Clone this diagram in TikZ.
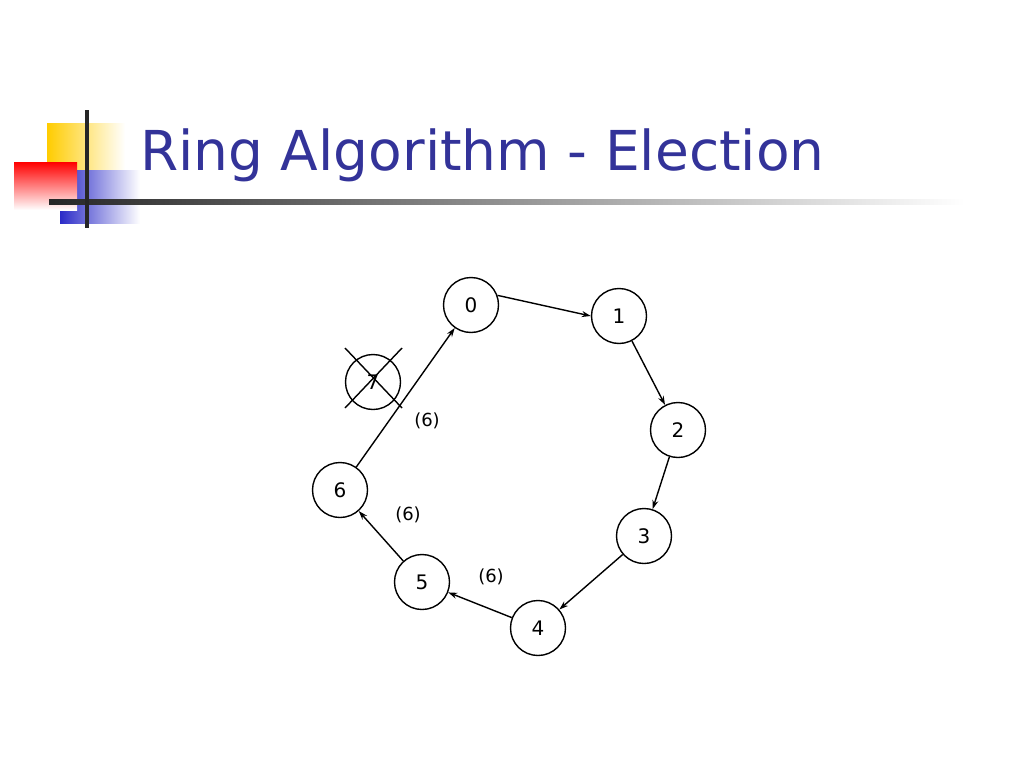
\documentclass[tikz,border=0pt]{standalone}
\usepackage{fontspec}
\setmainfont{DejaVu Sans}
\usetikzlibrary{arrows.meta}
\definecolor{titleblue}{HTML}{333399}
\definecolor{gold}{HTML}{FFCC00}
\definecolor{logoblue}{HTML}{2B2BC8}
\begin{document}
\begin{tikzpicture}[x=1pt,y=-1pt,
  proc/.style={circle,draw,line width=1.4pt,minimum size=55pt,inner sep=0pt,font=\fontsize{20}{20}\selectfont},
  conn/.style={line width=1.4pt,-{Stealth[length=9pt,width=6pt]}},
  lbl/.style={font=\fontsize{18}{18}\selectfont}]
\useasboundingbox (0,0) rectangle (1024,768);
% logo
\shade[left color=gold,right color=white] (47,123) rectangle (125,170);
\shade[left color=logoblue,right color=white] (60,170) rectangle (140,223);
\shade[shading=axis,shading angle=45,top color=red,bottom color=white] (14,162) rectangle (77,210);
\shade[left color=black!85,right color=white] (49,199) rectangle (965,204);
\fill[black!85] (85,110) rectangle (89,228);
\node[anchor=base west,text=titleblue,font=\fontsize{55}{55}\selectfont,inner sep=0pt] (title) at (140,170) {Ring Algorithm - Election};
% nodes
\node[proc] (n0) at (471,305) {0};
\node[proc] (n1) at (619,316) {1};
\node[proc] (n2) at (678,430) {2};
\node[proc] (n3) at (644,536) {3};
\node[proc] (n4) at (538,628) {4};
\node[proc] (n5) at (422,582) {5};
\node[proc] (n6) at (340,490) {6};
\node[proc] (n7) at (373,382) {7};
\coordinate (c1) at (345,348); \coordinate (c2) at (402,408);
\coordinate (c3) at (402,348); \coordinate (c4) at (345,408);
\draw[line width=1.4pt] (c1) -- (c2);
\draw[line width=1.4pt] (c3) -- (c4);
\draw[conn] (n0.20) -- (n1.west);
\draw[conn] (n1) -- (n2);
\draw[conn] (n2) -- (n3);
\draw[conn] (n3) -- (n4);
\draw[conn] (n4) -- (n5);
\draw[conn] (n5) -- (n6);
\draw[conn] (n6) -- (n0);
\node[lbl] (l1) at (427,421) {(6)};
\node[lbl] (l2) at (408,515) {(6)};
\node[lbl] (l3) at (491,577) {(6)};
\end{tikzpicture}
\end{document}
